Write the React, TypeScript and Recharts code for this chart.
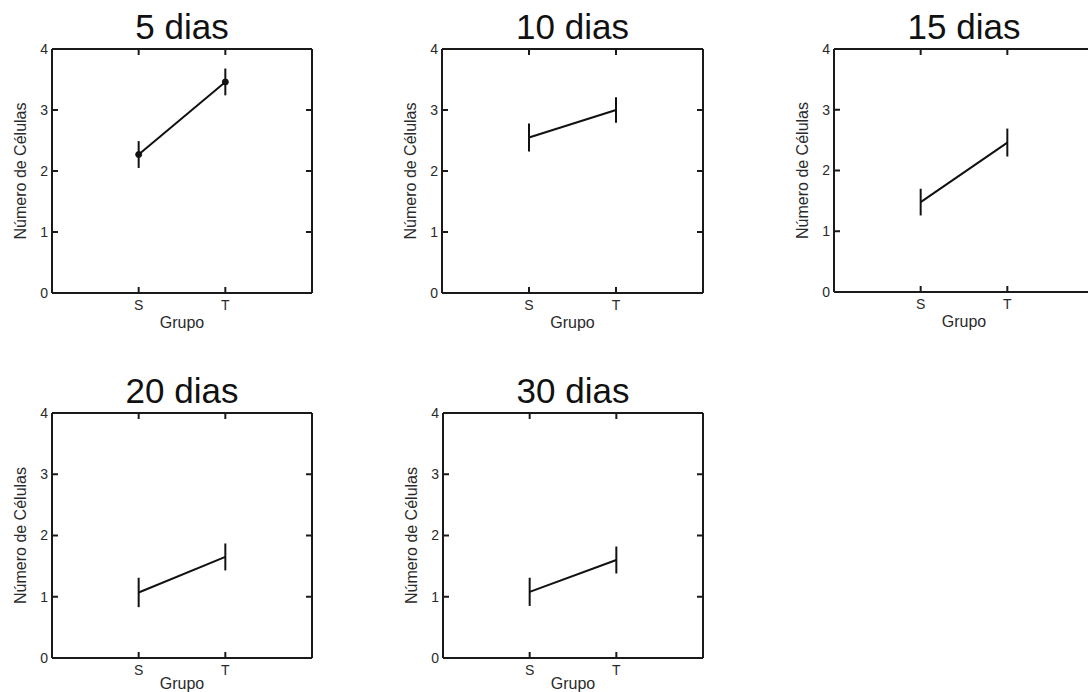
import React from "react";
import { LineChart, Line, XAxis, YAxis, ErrorBar, Label } from "recharts";

// grupos no eixo x (posicoes 1 e 2 num dominio 0..3)
const groups = ["S", "T"];
const groupPos = [1, 2];
const yTicks = [0, 1, 2, 3, 4];

const titles = ["5 dias", "10 dias", "15 dias", "20 dias", "30 dias"];

// media e erro de cada grupo, por tempo
const means5 = [2.27, 3.46];
const errs5 = [0.22, 0.22];
const means10 = [2.55, 3.0];
const errs10 = [0.23, 0.21];
const means15 = [1.48, 2.46];
const errs15 = [0.22, 0.23];
const means20 = [1.07, 1.65];
const errs20 = [0.24, 0.22];
const means30 = [1.08, 1.6];
const errs30 = [0.23, 0.22];

const series = [
    { means: means5, errs: errs5, dots: true },
    { means: means10, errs: errs10, dots: false },
    { means: means15, errs: errs15, dots: false },
    { means: means20, errs: errs20, dots: false },
    { means: means30, errs: errs30, dots: false },
];

// caixa de cada painel (area do grafico)
const boxes = [
    { left: 52, top: 49, w: 260, h: 244, gap: 24 },
    { left: 442, top: 49, w: 261, h: 244, gap: 24 },
    { left: 834, top: 49, w: 260, h: 243, gap: 24 },
    { left: 52, top: 413, w: 260, h: 245, gap: 20 },
    { left: 443, top: 413, w: 260, h: 245, gap: 20 },
];

const INK = "#111";
const TEXT = "#2a2a2a";
const FRAME = "#1a1a1a";

type Box = { left: number; top: number; w: number; h: number; gap: number };

const noLabel = () => "";

const Panel = ({
    title,
    means,
    errs,
    dots,
    box,
}: {
    title: string;
    means: number[];
    errs: number[];
    dots: boolean;
    box: Box;
}) => {
    const data = groupPos.map((x, i) => ({ x, y: means[i], e: errs[i] }));
    const width = box.w + 55 + 6;
    const height = box.h + 48 + 45;
    return (
        <div style={{ position: "absolute", left: box.left - 55, top: box.top - 48 }}>
            <LineChart
                width={width}
                height={height}
                data={data}
                margin={{ top: 46, right: 4, bottom: 0, left: 0 }}
            >
                <XAxis
                    xAxisId="b"
                    dataKey="x"
                    type="number"
                    domain={[0, 3]}
                    ticks={groupPos}
                    tickFormatter={(v: number) => groups[groupPos.indexOf(v)]}
                    height={45}
                    tickSize={-6}
                    tickMargin={13}
                    stroke={FRAME}
                    strokeWidth={2}
                    tick={{ fill: TEXT, fontSize: 14 }}
                    allowDataOverflow
                >
                    <Label value="Grupo" position="insideTop" offset={box.gap} fill={TEXT} fontSize={16} />
                </XAxis>
                <XAxis
                    xAxisId="t"
                    dataKey="x"
                    orientation="top"
                    type="number"
                    domain={[0, 3]}
                    ticks={groupPos}
                    height={2}
                    tickSize={-6}
                    tickFormatter={noLabel}
                    stroke={FRAME}
                    strokeWidth={2}
                    allowDataOverflow
                >
                    <Label value={title} position="top" offset={8} fill={INK} fontSize={35} />
                </XAxis>
                <YAxis
                    yAxisId="l"
                    type="number"
                    domain={[0, 4]}
                    ticks={yTicks}
                    width={55}
                    tickSize={-6}
                    tickMargin={10}
                    stroke={FRAME}
                    strokeWidth={2}
                    tick={{ fill: TEXT, fontSize: 14 }}
                    allowDataOverflow
                >
                    <Label value="Número de Células" angle={-90} position="center" dx={-4} fill={TEXT} fontSize={16} />
                </YAxis>
                <YAxis
                    yAxisId="r"
                    orientation="right"
                    type="number"
                    domain={[0, 4]}
                    ticks={yTicks}
                    width={2}
                    tickSize={-6}
                    tickFormatter={noLabel}
                    stroke={FRAME}
                    strokeWidth={2}
                    allowDataOverflow
                />
                {/* serie invisivel so para ligar os eixos de cima e da direita */}
                <Line
                    xAxisId="t"
                    yAxisId="r"
                    dataKey="y"
                    stroke="none"
                    dot={false}
                    activeDot={false}
                    legendType="none"
                    isAnimationActive={false}
                />
                <Line
                    xAxisId="b"
                    yAxisId="l"
                    dataKey="y"
                    stroke={INK}
                    strokeWidth={2}
                    dot={dots ? { r: 3, fill: INK, stroke: INK, strokeWidth: 1 } : false}
                    activeDot={false}
                    isAnimationActive={false}
                >
                    <ErrorBar dataKey="e" width={0} stroke={INK} strokeWidth={2} direction="y" isAnimationActive={false} />
                </Line>
            </LineChart>
        </div>
    );
};

export default function App() {
    return (
        <div
            style={{
                position: "absolute",
                left: 0,
                top: 0,
                width: 1088,
                height: 692,
                overflow: "hidden",
                background: "#fff",
                fontFamily: "'Liberation Sans', Arial, sans-serif",
            }}
        >
            {series.map((s, i) => (
                <Panel key={titles[i]} title={titles[i]} means={s.means} errs={s.errs} dots={s.dots} box={boxes[i]} />
            ))}
        </div>
    );
}
